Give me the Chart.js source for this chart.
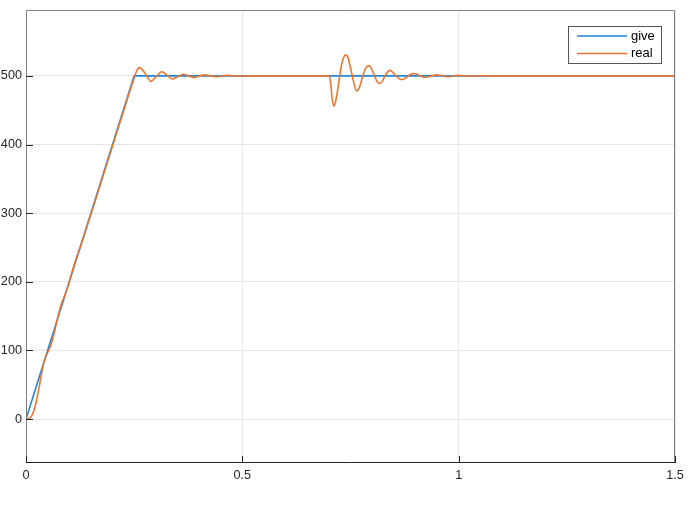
<!DOCTYPE html>
<html lang="en">
<head>
  <meta charset="UTF-8">
  <title>give / real</title>
  <script src="https://cdn.jsdelivr.net/npm/chart.js"></script>
  <style>
    html, body {
      margin: 0;
      padding: 0;
      background: #fff;
    }
    #wrap {
      width: 692px;
      height: 509px;
    }
  </style>
</head>
<body>
  <div id="wrap"><canvas id="respChart" width="692" height="509"></canvas></div>

  <script>
    // reference signal
    const giveT = [0, 0.25, 1.5];
    const giveV = [0, 500, 500];

    const realT = [0, 0.005, 0.01, 0.015, 0.02, 0.025, 0.03, 0.035, 0.04, 0.045,
      0.05, 0.055, 0.06, 0.065, 0.07, 0.075, 0.08, 0.085, 0.09, 0.095,
      0.1, 0.105, 0.11, 0.115, 0.12, 0.125, 0.13, 0.135, 0.14, 0.15,
      0.16, 0.17, 0.18, 0.19, 0.2, 0.21, 0.22, 0.23, 0.24, 0.25,
      0.255, 0.262, 0.275, 0.289, 0.301, 0.314, 0.326, 0.338, 0.351, 0.364,
      0.376, 0.388, 0.401, 0.414, 0.427, 0.44, 0.465, 0.49, 0.52, 0.6,
      0.701, 0.704, 0.708, 0.712, 0.716, 0.72, 0.725, 0.73, 0.735, 0.739,
      0.744, 0.75, 0.757, 0.764, 0.771, 0.778, 0.785, 0.792, 0.798, 0.805,
      0.811, 0.817, 0.823, 0.829, 0.835, 0.841, 0.848, 0.855, 0.862, 0.869,
      0.876, 0.883, 0.89, 0.897, 0.91, 0.922, 0.935, 0.948, 0.961, 0.974,
      1.0, 1.025, 1.05, 1.08, 1.5];
    const realV = [0, 0.3, 2, 7, 16, 29, 45, 63, 79, 90,
      97, 104, 113, 125, 139, 152, 164, 173, 181, 190,
      200, 211, 222, 232, 241, 250, 259, 269, 279, 298,
      318, 338, 358, 378, 398, 418, 438, 458, 478, 497,
      506, 512, 504, 492, 499, 506, 501, 495.5, 499, 502.5,
      500, 497.5, 500, 501.5, 500, 499, 500.8, 499.6, 500, 500,
      500, 490, 465, 456, 464, 478, 500, 518, 528, 530.6,
      527, 512, 492, 478, 484, 499, 511, 515, 511, 501,
      492, 489, 492, 499, 505, 508, 505, 500, 496, 494.6,
      496, 500, 502.5, 503.4, 500.5, 497.6, 499.5, 501.5, 500.3, 499,
      500.7, 499.6, 500.2, 500, 500];

    const xTicks = [0, 0.5, 1, 1.5];
    const yTicks = [0, 100, 200, 300, 400, 500];

    const giveColor = '#1f84da';
    const realColor = '#ec7530';
    const textColor = '#262626';
    const tickFont = { family: '"Liberation Sans", Arial, sans-serif', size: 12.7 };

    function points(ts, vs) {
      return ts.map((t, i) => ({ x: t, y: vs[i] }));
    }

    // MATLAB style inward ticks, box and legend
    const matlabAxes = {
      id: 'matlabAxes',
      afterDraw(chart) {
        const ctx = chart.ctx;
        const a = chart.chartArea;
        const xs = chart.scales.x, ys = chart.scales.y;
        ctx.save();
        ctx.lineWidth = 1;
        // box
        ctx.strokeStyle = '#808080';
        ctx.beginPath();
        ctx.moveTo(a.left + 0.5, a.bottom);
        ctx.lineTo(a.left + 0.5, a.top + 0.5);
        ctx.lineTo(a.right - 0.5, a.top + 0.5);
        ctx.lineTo(a.right - 0.5, a.bottom);
        ctx.stroke();
        ctx.strokeStyle = textColor;
        ctx.beginPath();
        ctx.moveTo(a.left, a.bottom - 0.5);
        ctx.lineTo(a.right, a.bottom - 0.5);
        ctx.stroke();
        // ticks
        ctx.strokeStyle = textColor;
        ctx.beginPath();
        yTicks.forEach(v => {
          const y = Math.round(ys.getPixelForValue(v)) + 0.5;
          ctx.moveTo(a.left, y);
          ctx.lineTo(a.left + 7, y);
        });
        xTicks.forEach(v => {
          const x = Math.round(xs.getPixelForValue(v)) + 0.5;
          ctx.moveTo(x, a.bottom);
          ctx.lineTo(x, a.bottom - 7);
        });
        ctx.stroke();
        // legend
        const bx = 568.5, by = 26.5, bw = 93, bh = 37;
        ctx.fillStyle = '#fff';
        ctx.fillRect(bx, by, bw, bh);
        ctx.strokeStyle = '#555';
        ctx.strokeRect(bx, by, bw, bh);
        ctx.font = '13px "Liberation Sans", Arial, sans-serif';
        ctx.textBaseline = 'middle';
        ctx.textAlign = 'left';
        const rows = [36, 53.5];
        chart.data.datasets.forEach((ds, i) => {
          ctx.strokeStyle = ds.borderColor;
          ctx.lineWidth = 1.5;
          ctx.beginPath();
          ctx.moveTo(577, rows[i]);
          ctx.lineTo(627, rows[i]);
          ctx.stroke();
          ctx.fillStyle = '#000';
          ctx.fillText(ds.label, 631, rows[i]);
        });
        ctx.restore();
      }
    };

    const ctx = document.getElementById('respChart').getContext('2d');
    const chart = new Chart(ctx, {
      type: 'line',
      data: {
        datasets: [
          {
            label: 'give',
            data: points(giveT, giveV),
            borderColor: giveColor,
            borderWidth: 1.6,
            pointRadius: 0,
            tension: 0,
            order: 1
          },
          {
            label: 'real',
            data: points(realT, realV),
            borderColor: realColor,
            borderWidth: 1.6,
            pointRadius: 0,
            cubicInterpolationMode: 'monotone',
            order: 0
          }
        ]
      },
      options: {
        responsive: false,
        animation: false,
        layout: { padding: { top: 10, right: 17, left: 0, bottom: 0 } },
        plugins: {
          legend: { display: false },
          tooltip: { enabled: false }
        },
        scales: {
          x: {
            type: 'linear',
            min: 0,
            max: 1.5,
            afterBuildTicks: s => { s.ticks = xTicks.map(v => ({ value: v })); },
            afterFit: s => { s.height = 46; s.paddingLeft = 0; s.paddingRight = 0; },
            grid: { color: '#e6e6e6', drawTicks: false },
            border: { display: false },
            ticks: {
              padding: 5,
              color: textColor,
              font: tickFont,
              maxRotation: 0,
              callback: v => String(v)
            }
          },
          y: {
            type: 'linear',
            min: -64,
            max: 596,
            afterBuildTicks: s => { s.ticks = yTicks.map(v => ({ value: v })); },
            afterFit: s => { s.width = 26; s.paddingTop = 0; s.paddingBottom = 0; },
            grid: { color: '#e6e6e6', drawTicks: false },
            border: { display: false },
            ticks: {
              padding: 4,
              color: textColor,
              font: tickFont,
              callback: v => String(v)
            }
          }
        }
      },
      plugins: [matlabAxes]
    });
  </script>
</body>
</html>
